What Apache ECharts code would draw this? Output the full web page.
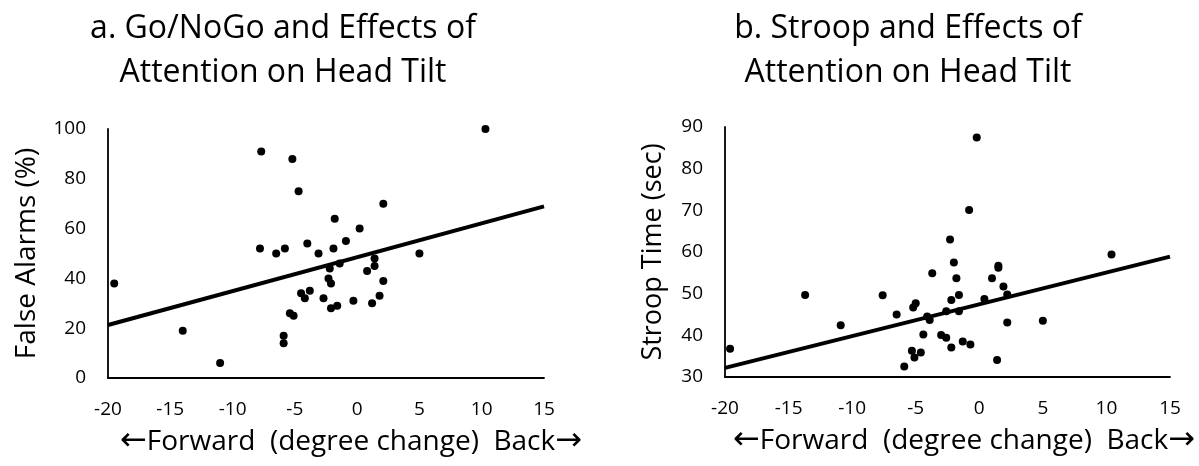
<!DOCTYPE html>
<html>
<head>
<meta charset="utf-8">
<script src="https://cdn.jsdelivr.net/npm/echarts@6/dist/echarts.min.js"></script>
<style>
  html, body { margin: 0; padding: 0; background: #fff; }
  #chart { width: 1199px; height: 466px; }
</style>
</head>
<body>
<div id="chart"></div>
<script>
// panel a: head tilt change (deg) vs false alarms (%)
const goTilt = [-7.7, -5.2, -4.7, -1.8, 2.1, 0.2, -7.8, -6.5, -5.8, -4.0, -3.1, -1.9, -0.9, 5.0,
  -19.5, -2.2, -2.3, -2.1, -1.4, 1.4, 1.4, 0.8, 2.1, -4.5, -4.2, -3.8, -2.7, -2.1, -1.6, -0.3,
  1.2, 1.8, -5.4, -5.1, -5.9, -5.9, -14.0, -11.0, 10.3];
const goFalseAlarms = [91, 88, 75, 64, 70, 60, 52, 50, 52, 54, 50, 52, 55, 50,
  38, 44, 40, 38, 46, 48, 45, 43, 39, 34, 32, 35, 32, 28, 29, 31,
  30, 33, 26, 25, 17, 14, 19, 6, 100];
const goTrend = [[-20, 21.3], [15, 68.9]];

// panel b: head tilt change (deg) vs stroop time (sec)
const stTilt = [-19.6, -13.7, -10.9, -7.6, -6.5, -0.2, -0.8, -2.3, -2.0, -3.7, -1.8, 1.5, 1.5,
  1.0, 1.9, 2.2, -1.6, -2.2, 0.4, -5.0, -5.2, -2.6, -1.6, -4.1, -3.9, -4.4, -3.0, -2.6, -1.3,
  -0.7, -2.2, 2.2, 5.0, 10.4, -5.3, -5.1, -4.6, -5.9, 1.4];
const stTime = [36.8, 49.7, 42.4, 49.6, 45.0, 87.5, 70.1, 63.0, 57.5, 54.9, 53.7, 56.7, 56.2,
  53.7, 51.7, 49.8, 49.7, 48.5, 48.7, 47.7, 46.7, 45.8, 45.8, 44.5, 43.7, 40.2, 40.1, 39.4, 38.5,
  37.8, 37.1, 43.1, 43.5, 59.4, 36.3, 34.7, 35.9, 32.5, 34.1];
const stTrend = [[-20, 32.2], [15, 58.9]];

const xTicks = [-20, -15, -10, -5, 0, 5, 10, 15];

const FONT = '"Open Sans", "Noto Sans", sans-serif';
const INK = '#000';

function xAxisCfg(grid, namePad) {
  return {
    type: 'value', gridIndex: grid, min: xTicks[0], max: xTicks[xTicks.length - 1], interval: 5,
    axisLine: { show: true, onZero: false, lineStyle: { color: INK, width: 1.8 } },
    axisTick: { show: false }, splitLine: { show: false },
    axisLabel: { color: INK, fontFamily: FONT, fontSize: 19, margin: 22 },
    name: '{ar|\u2190}Forward  (degree change)  Back{ar|\u2192}',
    nameLocation: 'middle', nameGap: 48,
    nameTextStyle: {
      color: INK, fontFamily: FONT, fontSize: 28, lineHeight: 32, padding: namePad,
      rich: { ar: { fontFamily: '"DejaVu Sans"', fontSize: 32, lineHeight: 32, color: INK } }
    }
  };
}

function yAxisCfg(grid, min, max, step, name, size, gap) {
  return {
    type: 'value', gridIndex: grid, min: min, max: max, interval: step,
    axisLine: { show: true, onZero: false, lineStyle: { color: INK, width: 1.8 } },
    axisTick: { show: false }, splitLine: { show: false },
    axisLabel: { color: INK, fontFamily: FONT, fontSize: 19, margin: 22 },
    name: name, nameLocation: 'middle', nameGap: gap,
    nameTextStyle: { color: INK, fontFamily: FONT, fontSize: size }
  };
}

const chart = echarts.init(document.getElementById('chart'), null, { renderer: 'canvas' });
chart.setOption({
  animation: false,
  backgroundColor: '#fff',
  title: [
    { text: 'a. Go/NoGo and Effects of\nAttention on Head Tilt', left: 278, top: 2, textAlign: 'center',
      textStyle: { color: INK, fontFamily: FONT, fontSize: 32, fontWeight: 'normal', lineHeight: 44 } },
    { text: 'b. Stroop and Effects of\nAttention on Head Tilt', left: 903, top: 2, textAlign: 'center',
      textStyle: { color: INK, fontFamily: FONT, fontSize: 32, fontWeight: 'normal', lineHeight: 44 } }
  ],
  grid: [
    { left: 108, width: 436, top: 129, height: 249 },
    { left: 725, width: 445, top: 127, height: 250 }
  ],
  xAxis: [xAxisCfg(0, [0, 0, 0, 50]), xAxisCfg(1, [0, 0, 0, 33])],
  yAxis: [
    yAxisCfg(0, 0, 100, 20, 'False Alarms (%)', 28, 67),
    yAxisCfg(1, 30, 90, 10, 'Stroop Time (sec)', 27, 58)
  ],
  series: [
    { type: 'scatter', xAxisIndex: 0, yAxisIndex: 0, symbolSize: 8, itemStyle: { color: INK, opacity: 1 },
      data: goTilt.map((x, i) => [x, goFalseAlarms[i]]) },
    { type: 'line', xAxisIndex: 0, yAxisIndex: 0, data: goTrend, showSymbol: false,
      lineStyle: { color: INK, width: 4 } },
    { type: 'scatter', xAxisIndex: 1, yAxisIndex: 1, symbolSize: 8, itemStyle: { color: INK, opacity: 1 },
      data: stTilt.map((x, i) => [x, stTime[i]]) },
    { type: 'line', xAxisIndex: 1, yAxisIndex: 1, data: stTrend, showSymbol: false,
      lineStyle: { color: INK, width: 4 } }
  ]
});
</script>
</body>
</html>
